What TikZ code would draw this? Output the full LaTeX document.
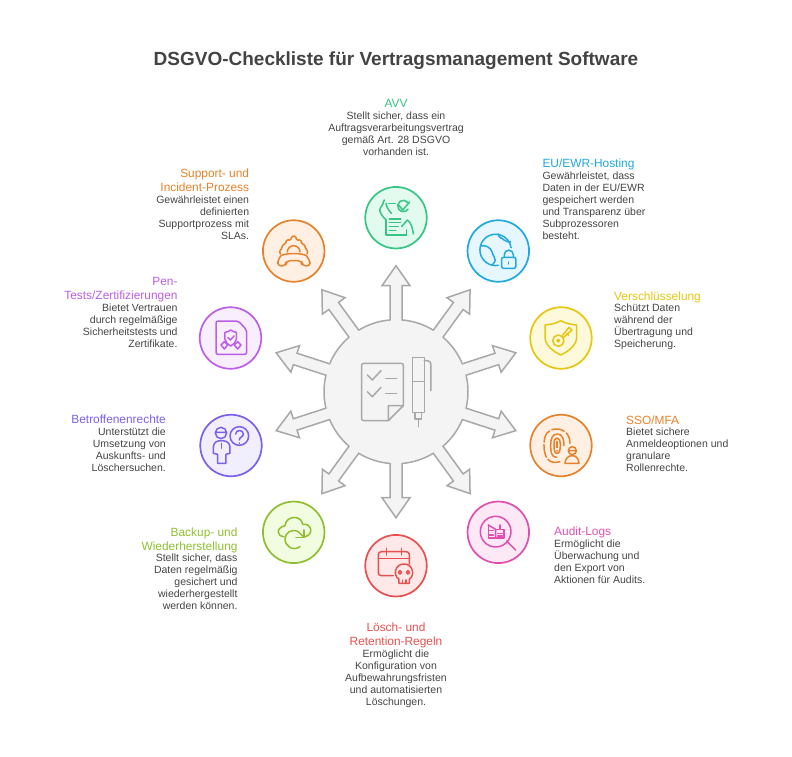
\documentclass[tikz,border=0pt]{standalone}
\usepackage{fontspec}
\setmainfont{Liberation Sans}
\definecolor{avvline}{HTML}{35C584}\definecolor{avvfill}{HTML}{E3FBEE}
\definecolor{euline}{HTML}{20A8E0}\definecolor{eufill}{HTML}{E6F7FF}
\definecolor{cryptline}{HTML}{E6C60F}\definecolor{cryptfill}{HTML}{FFF9DB}
\definecolor{ssoline}{HTML}{E5822B}\definecolor{ssofill}{HTML}{FFF0E3}
\definecolor{auditline}{HTML}{E04FB0}\definecolor{auditfill}{HTML}{FDE8F6}
\definecolor{loeschline}{HTML}{E8504F}\definecolor{loeschfill}{HTML}{FFE9E8}
\definecolor{backupline}{HTML}{8FBF30}\definecolor{backupfill}{HTML}{F2FCE0}
\definecolor{rechteline}{HTML}{7A60EC}\definecolor{rechtefill}{HTML}{F1EFFE}
\definecolor{penline}{HTML}{BB5EE8}\definecolor{penfill}{HTML}{F9EEFE}
\definecolor{supportline}{HTML}{E5822B}\definecolor{supportfill}{HTML}{FFF0E3}
\definecolor{hubline}{HTML}{A8A8A8}\definecolor{hubfill}{HTML}{F4F4F4}
\definecolor{titletext}{HTML}{434343}\definecolor{bodytext}{HTML}{444444}
\tikzset{
  badge/.style={circle,line width=1.7pt,minimum size=61.5pt,inner sep=0pt,draw=#1line,fill=#1fill},
  icon/.style={shift={(#1)},x=0.3333pt,y=-0.3333pt,line width=1.5pt,line cap=round,line join=round},
  head/.style={inner sep=0pt,yshift=-1pt,text=#1line,font=\fontsize{11.9}{14}\selectfont},
  blurb/.style={inner sep=0pt,yshift=-1pt,text=bodytext,font=\fontsize{10.5}{12}\selectfont}
}
\begin{document}
\begin{tikzpicture}[x=1pt,y=-1pt]
  \useasboundingbox (0,0) rectangle (792,756);
  \node[inner sep=0pt,text=titletext,font=\bfseries\fontsize{19}{22}\selectfont] (title) at (396,61) {DSGVO-Checkliste für Vertragsmanagement Software};

  % hub with ten arrows
  \coordinate (hub) at (396,391.7);
  \begin{scope}[shift={(hub)},y=1pt]
    \draw[draw=hubline,fill=hubfill,line width=1.5pt,miter limit=6]
      ([rotate=90]71.75,-6)
      foreach \a in {90,126,162,198,234,270,306,342,378,414} {
        -- ([rotate=\a]71.75,-6) -- ([rotate=\a]106,-6) -- ([rotate=\a]106,-14) -- ([rotate=\a]126,0)
        -- ([rotate=\a]106,14) -- ([rotate=\a]106,6) -- ([rotate=\a]71.75,6)
        arc[start angle=\a+4.8,end angle=\a+31.2,radius=72]
      } -- cycle;
  \end{scope}
  \begin{scope}[icon={250,340},draw=hubline]
    \draw[rounded corners=2pt] (415,242) -- (335,242) -- (335,70) -- (460,70) -- (460,197);
    \draw (415,242) -- (460,197) (415,242) -- (415,197) -- (460,197);
    \draw (352,105) -- (367,120) -- (393,92) (352,155) -- (367,170) -- (393,142);
    \draw (407,115) -- (440,115) (407,160) -- (440,160);
    \draw (488,52) rectangle (523,218) (488,125) -- (523,125);
    \draw (523,62) -- (532,62) arc[start angle=-90,end angle=0,radius=11] -- (543,152);
    \draw (495,218) -- (495,237) -- (515,237) -- (515,218) (505,237) -- (505,260);
  \end{scope}

  % badges
  \foreach \name/\x/\y in {avv/396/217.7,eu/498.3/251,crypt/561/338,sso/561/445.5,audit/498.3/532.3,
      loesch/396/565.7,backup/293.7/532.3,rechte/231/445.5,pen/230.5/338,support/293.7/251}
    \node[badge=\name] (\name) at (\x,\y) {};

  % icons
  \begin{scope}[icon={250,170},draw=avvline]
    \draw (408,150) -- (408,195) -- (470,195) -- (470,180);
    \draw (418,147) -- (452,147) (418,158) -- (452,158) (418,170) -- (445,170) (418,182) -- (438,182);
    \draw (416,100) -- (436,100);
    \draw (474,98) arc[start angle=-35,end angle=-325,radius=17];
    \draw (447,106) -- (458,120) -- (479,96);
    \draw (403,90) .. controls (396,100) and (402,106) .. (392,112) .. controls (384,125) and (395,135) .. (408,150);
    \draw (408,100) .. controls (410,112) and (416,120) .. (424,130);
    \draw (455,170) -- (472,150) .. controls (484,158) and (488,175) .. (490,192);
  \end{scope}
  \begin{scope}[icon={250,170},draw=euline]
    \draw (745,286) arc[start angle=80,end angle=352,radius=47];
    \draw (692,228) .. controls (705,224) and (722,232) .. (726,245) .. controls (728,258) and (738,262) .. (736,272) -- (728,284);
    \draw (745,192) .. controls (745,204) and (758,204) .. (762,210) .. controls (766,216) and (775,214) .. (782,216);
    \draw[rounded corners=2pt] (755,262) rectangle (798,295);
    \draw (763,262) -- (763,254) arc[start angle=180,end angle=360,radius=13.5] -- (790,262);
    \draw (776,276) -- (776,282);
  \end{scope}
  \begin{scope}[icon={520,300},draw=cryptline]
    \draw (75,75) .. controls (105,72) and (115,66) .. (122,62) .. controls (130,66) and (140,72) .. (170,75)
      -- (170,112) .. controls (170,135) and (145,155) .. (122,165) .. controls (100,155) and (75,135) .. (75,112) -- cycle;
    \draw (115,122) circle[radius=17] (115,122) circle[radius=4];
    \draw (127,107) -- (147,82) -- (156,90) -- (130,113) (140,100) -- (146,106);
  \end{scope}
  \begin{scope}[icon={330,410},draw=ssoline]
    \draw (680,142) .. controls (664,142) and (662,125) .. (662,107) .. controls (662,88) and (666,72) .. (682,72)
      .. controls (698,72) and (702,88) .. (702,107);
    \draw (672,105) .. controls (672,90) and (674,84) .. (681,84) .. controls (688,84) and (691,92) .. (691,105)
      .. controls (691,122) and (688,130) .. (681,130) .. controls (674,130) and (672,122) .. (672,105);
    \draw[dash pattern=on 13pt off 2.5pt] (690,155) .. controls (655,165) and (642,140) .. (642,105)
      .. controls (642,72) and (655,57) .. (680,57) .. controls (705,57) and (720,75) .. (720,100);
    \draw (681,95) -- (681,113) (681,122) -- (681,123);
    \draw (727,122) circle[radius=12] (715,122) -- (739,122);
    \draw (705,160) .. controls (706,145) and (715,137) .. (727,137) .. controls (738,137) and (746,145) .. (747,160) -- cycle;
  \end{scope}
  \begin{scope}[icon={330,410},draw=auditline]
    \draw (497,365) circle[radius=46];
    \draw (530,393) -- (557,420);
    \draw (475,345) -- (475,384) -- (522,384) -- (522,358) -- (497,358);
    \draw (475,345) -- (497,358) -- (497,384);
    \draw (510,345) -- (510,358) (477,362) -- (490,362) (477,375) -- (490,375) (503,370) -- (517,370) (503,378) -- (517,378);
  \end{scope}
  \begin{scope}[icon={330,410},draw=loeschline]
    \draw[rounded corners=3pt] (190,497) -- (145,497) -- (145,425) -- (238,425) -- (238,462);
    \draw (145,445) -- (238,445) (170,415) -- (170,435) (215,415) -- (215,435);
    \draw (207,520) -- (207,507) .. controls (190,500) and (192,462) .. (222,462)
      .. controls (252,462) and (254,500) .. (238,507) -- (238,520) -- cycle;
    \draw (210,487) circle[radius=5] (234,487) circle[radius=5];
    \draw (218,510) -- (218,520) (228,510) -- (228,520);
  \end{scope}
  \begin{scope}[icon={250,340},draw=backupline]
    \draw (102,590) .. controls (82,590) and (75,565) .. (105,557) .. controls (108,525) and (155,525) .. (158,553)
      .. controls (188,550) and (190,585) .. (165,590);
    \draw (150,620) .. controls (128,635) and (105,618) .. (105,597) .. controls (105,578) and (125,565) .. (145,575) -- (162,592);
    \draw (138,592) -- (162,592) -- (162,570);
  \end{scope}
  \begin{scope}[icon={190,300},draw=rechteline]
    \draw (93,399) circle[radius=17] (78,397) -- (108,397);
    \draw (83,490) -- (108,490) -- (108,463) -- (120,460) -- (120,440) .. controls (118,425) and (105,422) .. (95,422)
      .. controls (82,422) and (72,425) .. (70,440) -- (70,460) -- (83,463) -- cycle;
    \draw (95,430) -- (95,445);
    \draw (148,408) circle[radius=28];
    \draw (137,402) .. controls (137,388) and (160,388) .. (160,402) .. controls (160,412) and (148,410) .. (148,420) (148,429) -- (148,430);
  \end{scope}
  \begin{scope}[icon={190,300},draw=penline]
    \draw[rounded corners=2pt] (145,63) -- (78,63) -- (78,163) -- (170,163) -- (170,90) -- cycle;
    \draw (105,97) .. controls (115,96) and (118,93) .. (122,90) .. controls (127,93) and (130,96) .. (139,97)
      -- (139,118) .. controls (138,128) and (130,133) .. (122,138) .. controls (114,133) and (106,128) .. (105,118) -- cycle;
    \draw (114,113) -- (121,120) -- (132,108);
    \draw (103,125) -- (113,135) -- (103,147) -- (93,135) -- cycle;
    \draw (143,125) -- (153,135) -- (143,147) -- (133,135) -- cycle;
  \end{scope}
  \begin{scope}[icon={250,170},draw=supportline]
    \draw[rounded corners=1.5pt] (91,252) -- (88,241) -- (97,236) -- (96,225) -- (107,222) -- (110,208) -- (122,212) -- (125,198)
      -- (137,198) -- (140,212) -- (152,208) -- (155,222) -- (166,225) -- (165,236) -- (174,241) -- (171,252);
    \draw (112,246) arc[start angle=180,end angle=360,radius=19];
    \draw[rounded corners=4pt] (82,288) -- (84,268) .. controls (100,248) and (162,248) .. (178,268) -- (182,288) -- (156,288) -- (156,272)
      -- (108,272) -- (108,288) -- cycle;
  \end{scope}

  % labels
  \node[head=avv,anchor=north] (avvHead) at (396,98.5) {AVV};
  \node[blurb,anchor=north,align=center] (avvText) at (396,110.5) {Stellt sicher, dass ein\\Auftragsverarbeitungsvertrag\\gemäß Art. 28 DSGVO\\vorhanden ist.};
  \node[head=eu,anchor=north west] (euHead) at (542.3,158) {EU/EWR-Hosting};
  \node[blurb,anchor=north west,align=left] (euText) at (542.3,170.5) {Gewährleistet, dass\\Daten in der EU/EWR\\gespeichert werden\\und Transparenz über\\Subprozessoren\\besteht.};
  \node[head=crypt,anchor=north west] (cryptHead) at (614,290.5) {Verschlüsselung};
  \node[blurb,anchor=north west,align=left] (cryptText) at (614,302.5) {Schützt Daten\\während der\\Übertragung und\\Speicherung.};
  \node[head=sso,anchor=north west] (ssoHead) at (626,414.5) {SSO/MFA};
  \node[blurb,anchor=north west,align=left] (ssoText) at (626,426.5) {Bietet sichere\\Anmeldeoptionen und\\granulare\\Rollenrechte.};
  \node[head=audit,anchor=north west] (auditHead) at (554,526) {Audit-Logs};
  \node[blurb,anchor=north west,align=left] (auditText) at (554,538.5) {Ermöglicht die\\Überwachung und\\den Export von\\Aktionen für Audits.};
  \node[head=loesch,anchor=north,align=center] (loeschHead) at (396,622) {Lösch- und\\Retention-Regeln};
  \node[blurb,anchor=north,align=center] (loeschText) at (396,648.5) {Ermöglicht die\\Konfiguration von\\Aufbewahrungsfristen\\und automatisierten\\Löschungen.};
  \node[head=backup,anchor=north east,align=right] (backupHead) at (237.7,526.5) {Backup- und\\Wiederherstellung};
  \node[blurb,anchor=north east,align=right] (backupText) at (237.7,552.5) {Stellt sicher, dass\\Daten regelmäßig\\gesichert und\\wiederhergestellt\\werden können.};
  \node[head=rechte,anchor=north east] (rechteHead) at (166,413.5) {Betroffenenrechte};
  \node[blurb,anchor=north east,align=right] (rechteText) at (166,426.5) {Unterstützt die\\Umsetzung von\\Auskunfts- und\\Löschersuchen.};
  \node[head=pen,anchor=north east,align=right] (penHead) at (177.7,276) {Pen-\\Tests/Zertifizierungen};
  \node[blurb,anchor=north east,align=right] (penText) at (177.7,302.5) {Bietet Vertrauen\\durch regelmäßige\\Sicherheitstests und\\Zertifikate.};
  \node[head=support,anchor=north east,align=right] (supportHead) at (249.3,168) {Support- und\\Incident-Prozess};
  \node[blurb,anchor=north east,align=right] (supportText) at (249.3,194.5) {Gewährleistet einen\\definierten\\Supportprozess mit\\SLAs.};
\end{tikzpicture}
\end{document}
